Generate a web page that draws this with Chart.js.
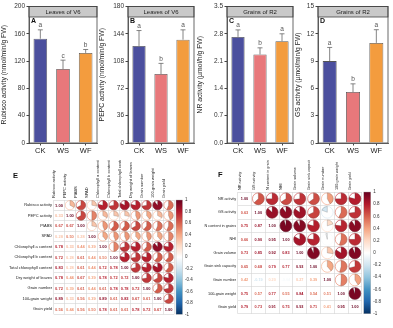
<!DOCTYPE html>
<html>
<head>
<meta charset="utf-8">
<script src="https://cdn.jsdelivr.net/npm/chart.js@4.4.0/dist/chart.umd.min.js"></script>
<style>
  body { margin: 0; background: #fff; }
  #wrap { position: relative; width: 393px; height: 328px; overflow: hidden; }
  canvas { position: absolute; }
</style>
</head>
<body>
<div id="wrap">
  <canvas id="chartA" width="98" height="160" style="left:0;top:0"></canvas>
  <canvas id="chartB" width="98" height="160" style="left:98px;top:0"></canvas>
  <canvas id="chartC" width="98" height="160" style="left:196px;top:0"></canvas>
  <canvas id="chartD" width="99" height="160" style="left:294px;top:0"></canvas>
  <canvas id="chartE" width="196" height="168" style="left:0;top:160px"></canvas>
  <canvas id="chartF" width="197" height="168" style="left:196px;top:160px"></canvas>
</div>
<script>
// treatments
const groups = ['CK', 'WS', 'WF'];
const barColors = ['#4b4f9e', '#e8787b', '#f39c3e'];

// A - Rubisco, leaves of V6
const rubisco = [152.8, 108.4, 132];
const rubiscoErr = [13, 13, 5];
const rubiscoSig = ['a', 'c', 'b'];

// B - PEPC, leaves of V6
const pepc = [128, 91, 136.2];
const pepcErr = [20.3, 14, 13];
const pepcSig = ['a', 'b', 'a'];

// C - NR, grains of R2
const nr = [2.72, 2.27, 2.61];
const nrErr = [0.18, 0.17, 0.19];
const nrSig = ['a', 'b', 'a'];

// D - GS, grains of R2
const gs = [9.0, 5.6, 11.0];
const gsErr = [1.5, 0.9, 1.45];
const gsSig = ['a', 'b', 'a'];

// E - correlation (lower triangle, row by row)
const eVars = ['Rubisco activity', 'PEPC activity', 'PIABS', 'SPAD', 'Chlorophyll a content',
  'Chlorophyll b content', 'Total chlorophyll content', 'Dry weight of leaves', 'Grain number',
  '100-grain weight', 'Grain yield'];
const eCorr = [
  [1.00],
  [0.33, 1.00],
  [0.67, 0.67, 1.00],
  [0.28, 0.50, 0.28, 1.00],
  [0.78, 0.33, 0.44, 0.39, 1.00],
  [0.72, 0.28, 0.61, 0.44, 0.50, 1.00],
  [0.83, 0.28, 0.61, 0.44, 0.72, 0.78, 1.00],
  [0.78, 0.44, 0.67, 0.39, 0.78, 0.72, 0.72, 1.00],
  [0.72, 0.39, 0.61, 0.44, 0.61, 0.78, 0.78, 0.72, 1.00],
  [0.89, 0.33, 0.56, 0.39, 0.89, 0.61, 0.83, 0.67, 0.61, 1.00],
  [0.56, 0.44, 0.56, 0.50, 0.78, 0.61, 0.61, 0.78, 0.72, 0.67, 1.00]
];

// F - correlation (lower triangle, row by row)
const fVars = ['NR activity', 'GS activity', 'N content in grains', 'NHI', 'Grain volume',
  'Grain sink capacity', 'Grain number', '100-grain weight', 'Grain yield'];
const fCorr = [
  [1.00],
  [0.63, 1.00],
  [0.75, 0.87, 1.00],
  [0.66, 0.90, 0.95, 1.00],
  [0.73, 0.85, 0.92, 0.83, 1.00],
  [0.65, 0.68, 0.79, 0.77, 0.93, 1.00],
  [0.42, -0.19, 0.20, -0.04, 0.27, 0.39, 1.00],
  [0.75, 0.57, 0.77, 0.55, 0.84, 0.54, 0.51, 1.00],
  [0.79, 0.73, 0.91, 0.75, 0.93, 0.71, 0.41, 0.95, 1.00]
];

const colorbarTicks = [-1, -0.8, -0.6, -0.4, -0.2, 0, 0.2, 0.4, 0.6, 0.8, 1];
const palette = ['#053061', '#2166AC', '#4393C3', '#92C5DE', '#D1E5F0', '#FFFFFF',
  '#FDDBC7', '#F4A582', '#D6604D', '#B2182B', '#67001F'];

const FONT = "'Liberation Sans', Arial, sans-serif";
Chart.defaults.font.family = FONT;

function hexRgb(h) {
  return [parseInt(h.slice(1, 3), 16), parseInt(h.slice(3, 5), 16), parseInt(h.slice(5, 7), 16)];
}
function corrColor(v) {
  const t = (v + 1) / 2 * (palette.length - 1);
  const i = Math.min(Math.floor(t), palette.length - 2);
  const f = t - i;
  const a = hexRgb(palette[i]), b = hexRgb(palette[i + 1]);
  const c = a.map((x, k) => Math.round(x + (b[k] - x) * f));
  return 'rgb(' + c.join(',') + ')';
}

function makeBar(id, vals, errs, sig, cfg) {
  const panel = {
    id: 'panel' + id,
    afterDraw(chart) {
      const ctx = chart.ctx;
      const a = chart.chartArea;
      const y = chart.scales.y;
      const meta = chart.getDatasetMeta(0);
      ctx.save();
      meta.data.forEach((bar, i) => {
        const top = y.getPixelForValue(vals[i] + errs[i]);
        ctx.strokeStyle = '#666';
        ctx.lineWidth = 0.8;
        ctx.beginPath();
        ctx.moveTo(bar.x, bar.y);
        ctx.lineTo(bar.x, top);
        ctx.moveTo(bar.x - 2.5, top);
        ctx.lineTo(bar.x + 2.5, top);
        ctx.stroke();
        ctx.fillStyle = '#555';
        ctx.font = '6.5px ' + FONT;
        ctx.textAlign = 'center';
        ctx.textBaseline = 'middle';
        ctx.fillText(sig[i], bar.x, top - 4.3);
      });
      // grey strip on top of the panel
      ctx.fillStyle = '#c9c9c9';
      ctx.fillRect(a.left, a.top, a.right - a.left, 10.5);
      ctx.strokeStyle = '#444';
      ctx.lineWidth = 0.8;
      ctx.strokeRect(a.left, a.top, a.right - a.left, 10.5);
      ctx.fillStyle = '#222';
      ctx.font = '6px ' + FONT;
      ctx.fillText(cfg.strip, (a.left + a.right) / 2, a.top + 5.5);
      ctx.strokeRect(a.left, a.top, a.right - a.left, a.bottom - a.top);
      ctx.font = 'bold 7px ' + FONT;
      ctx.textAlign = 'left';
      ctx.fillStyle = '#111';
      ctx.fillText(cfg.letter, a.left + 2, a.top + 15);
      ctx.restore();
    }
  };
  new Chart(document.getElementById(id), {
    type: 'bar',
    data: {
      labels: groups,
      datasets: [{
        data: vals,
        backgroundColor: barColors,
        borderColor: '#555',
        borderWidth: 0.8,
        barPercentage: 0.6,
        categoryPercentage: 1
      }]
    },
    options: {
      responsive: false,
      animation: false,
      devicePixelRatio: 1,
      layout: { padding: { top: 6.5, right: cfg.right, left: 0, bottom: 0 } },
      plugins: { legend: { display: false }, tooltip: { enabled: false } },
      scales: {
        x: {
          grid: { drawOnChartArea: false, offset: false, tickLength: 2.5, tickColor: '#444' },
          border: { color: '#444', width: 0.8 },
          ticks: { color: '#222', font: { size: 7.5 }, padding: 0.5 },
          afterFit: s => { s.height = 17; }
        },
        y: {
          min: 0,
          max: cfg.max,
          ticks: { stepSize: cfg.step, color: '#333', font: { size: 6.5 }, padding: 1.5, callback: cfg.fmt },
          grid: { drawOnChartArea: false, tickLength: 2.5, tickColor: '#444' },
          border: { color: '#444', width: 0.8 },
          title: { display: true, text: cfg.title, color: '#222', font: { size: 6.8 }, padding: { top: 0, bottom: 1 } },
          afterFit: s => { s.width = cfg.left; }
        }
      }
    },
    plugins: [panel]
  });
}

makeBar('chartA', rubisco, rubiscoErr, rubiscoSig, {
  left: 29, right: 1, max: 200, step: 40, fmt: v => v,
  title: 'Rubisco activity (nmol/min/g FW)', strip: 'Leaves of V6', letter: 'A'
});
makeBar('chartB', pepc, pepcErr, pepcSig, {
  left: 30, right: 2, max: 180, step: 36, fmt: v => v,
  title: 'PEPC activity (nmol/min/g FW)', strip: 'Leaves of V6', letter: 'B'
});
makeBar('chartC', nr, nrErr, nrSig, {
  left: 31, right: 1, max: 3.5, step: 0.7, fmt: v => Number(v).toFixed(1),
  title: 'NR activity (\u00b5mol/h/g FW)', strip: 'Grains of R2', letter: 'C'
});
makeBar('chartD', gs, gsErr, gsSig, {
  left: 24, right: 5, max: 15, step: 3, fmt: v => v,
  title: 'GS activity (\u00b5mol/min/g FW)', strip: 'Grains of R2', letter: 'D'
});

function makeCorr(id, vars, corr, cfg) {
  const cells = [];
  for (let i = 0; i < vars.length; i++) {
    for (let j = 0; j < vars.length; j++) {
      const v = j <= i ? corr[i][j] : corr[j][i];
      cells.push({ x: vars[j], y: vars[i], v: v, lower: j <= i });
    }
  }
  const corrPlugin = {
    id: 'corr' + id,
    afterDatasetsDraw(chart) {
      const ctx = chart.ctx;
      const xs = chart.scales.x;
      const r = xs.width / vars.length * 0.425;
      const meta = chart.getDatasetMeta(0);
      ctx.save();
      meta.data.forEach((pt, k) => {
        const c = cells[k];
        const col = corrColor(c.v);
        if (c.lower) {
          ctx.fillStyle = col;
          ctx.font = 'bold ' + cfg.numSize + 'px ' + FONT;
          ctx.textAlign = 'center';
          ctx.textBaseline = 'middle';
          ctx.fillText(c.v.toFixed(2), pt.x, pt.y + 0.3);
        } else {
          ctx.strokeStyle = col;
          ctx.lineWidth = 0.6;
          ctx.beginPath();
          ctx.arc(pt.x, pt.y, r, 0, Math.PI * 2);
          ctx.stroke();
          const start = -Math.PI / 2;
          const end = start + c.v * Math.PI * 2;
          ctx.beginPath();
          ctx.moveTo(pt.x, pt.y);
          ctx.arc(pt.x, pt.y, r, start, end, c.v < 0);
          ctx.closePath();
          ctx.fillStyle = col;
          ctx.fill();
          ctx.strokeStyle = 'rgba(70,70,70,0.55)';
          ctx.lineWidth = 0.4;
          ctx.stroke();
        }
      });
      // colour bar along the right-hand axis
      const bar = chart.scales.bar;
      const y0 = bar.getPixelForValue(1), y1 = bar.getPixelForValue(-1);
      const g = ctx.createLinearGradient(0, y0, 0, y1);
      palette.slice().reverse().forEach((p, i) => g.addColorStop(i / (palette.length - 1), p));
      ctx.fillStyle = g;
      ctx.fillRect(bar.left + cfg.gap, y0, cfg.barW, y1 - y0);
      ctx.strokeStyle = '#aaa';
      ctx.lineWidth = 0.4;
      ctx.strokeRect(bar.left + cfg.gap, y0, cfg.barW, y1 - y0);
      ctx.fillStyle = '#111';
      ctx.font = 'bold 7.5px ' + FONT;
      ctx.textAlign = 'left';
      ctx.textBaseline = 'middle';
      ctx.fillText(cfg.letter, cfg.lx, cfg.ly);
      ctx.restore();
    }
  };
  new Chart(document.getElementById(id), {
    type: 'scatter',
    data: { datasets: [{ data: cells, pointRadius: 0, pointHoverRadius: 0 }] },
    options: {
      responsive: false,
      animation: false,
      devicePixelRatio: 1,
      layout: { padding: { top: 0, left: 0, right: 0, bottom: cfg.bottom } },
      plugins: { legend: { display: false }, tooltip: { enabled: false } },
      scales: {
        x: {
          type: 'category',
          labels: vars,
          position: 'top',
          offset: true,
          grid: { offset: true, color: '#d4d4d4', lineWidth: 0.6, drawTicks: false },
          border: { display: false },
          ticks: { autoSkip: false, minRotation: 90, maxRotation: 90, color: '#222', font: { size: cfg.labSize }, padding: 2 },
          afterFit: s => { s.height = cfg.top; }
        },
        y: {
          type: 'category',
          labels: vars,
          offset: true,
          grid: { offset: true, color: '#d4d4d4', lineWidth: 0.6, drawTicks: false },
          border: { display: false },
          ticks: { autoSkip: false, color: '#222', font: { size: cfg.labSize }, padding: 1.5 },
          afterFit: s => { s.width = cfg.left; }
        },
        bar: {
          type: 'linear',
          position: 'right',
          min: -1,
          max: 1,
          afterBuildTicks: s => { s.ticks = colorbarTicks.map(v => ({ value: v })); },
          ticks: { color: '#333', font: { size: 4.5 }, padding: cfg.tickPad, callback: v => String(Math.round(v * 10) / 10) },
          grid: { display: false, drawTicks: false },
          border: { display: false },
          afterFit: s => { s.width = cfg.right; }
        }
      }
    },
    plugins: [corrPlugin]
  });
}

makeCorr('chartE', eVars, eCorr, {
  left: 53.5, top: 40, right: 22, bottom: 7.5, gap: 2, barW: 6.5, tickPad: 11,
  labSize: 4, numSize: 4, letter: 'E', lx: 13, ly: 16
});
makeCorr('chartF', fVars, fCorr, {
  left: 41.6, top: 32, right: 31.2, bottom: 8, gap: 2, barW: 7, tickPad: 11.5,
  labSize: 3.8, numSize: 3.8, letter: 'F', lx: 22, ly: 15
});
</script>
</body>
</html>
